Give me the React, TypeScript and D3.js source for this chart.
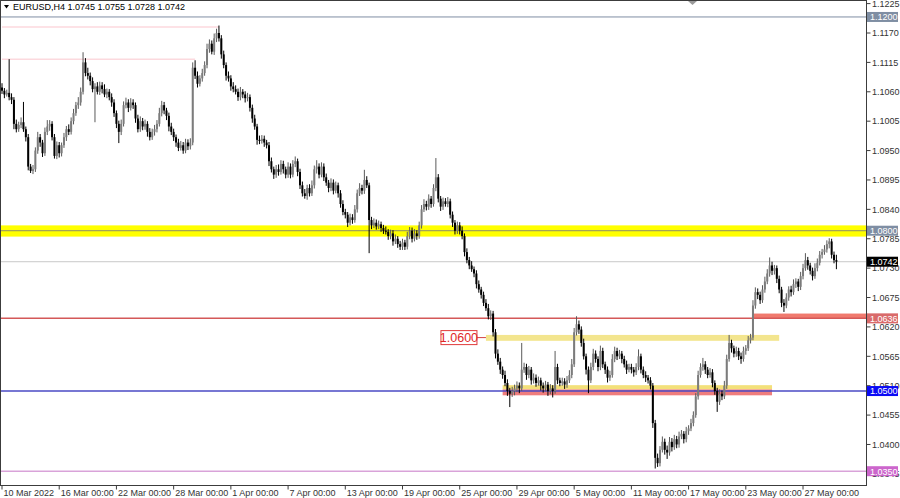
import React from "react";
import * as d3 from "d3";

// Each bar: [close, upper wick, lower wick] in pips above 1.0000; open = previous close
type B = [number, number, number];
const FIRST_OPEN = 1068;
const G0: B[] = [[1062,8,6],[1055,5,7],[1058,6,4],[1050,63,6],[1045,7,8],[1000,5,10],[990,8,6],[998,6,5],[1003,9,6],[990,38,5],[975,5,8],[920,6,7],[912,5,4],[915,8,6],[950,6,5],[975,10,6],[965,6,8],[945,5,7],[985,8,5],[995,12,6],[1000,7,8],[975,5,6],[940,6,5],[960,7,6]];
const G1: B[] = [[945,6,8],[960,5,6],[975,8,5],[990,6,7],[985,9,6],[1005,7,5],[1020,8,6],[1035,6,5],[1040,10,7],[1060,8,6],[1115,19,5],[1095,8,6],[1090,10,7],[1080,6,8],[1065,7,6],[1070,6,62],[1060,8,5],[1072,7,6],[1065,6,8],[1055,9,5],[1060,6,7],[1050,5,6],[1040,7,8],[1020,6,7]];
const G2: B[] = [[1000,5,8],[985,6,21],[1000,8,6],[1035,7,5],[1040,9,6],[1030,6,8],[1040,8,5],[1035,6,7],[1010,5,8],[990,7,6],[1005,9,5],[995,6,7],[1000,8,6],[985,5,9],[975,7,6],[985,6,5],[990,8,7],[1000,7,6],[1020,10,5],[1035,8,6],[1025,6,7],[1015,5,8],[995,6,9],[985,7,6]];
const G3: B[] = [[975,6,7],[965,5,8],[955,7,6],[960,8,5],[950,6,6],[965,7,5],[958,6,7],[965,8,6],[1105,10,5],[1090,14,6],[1075,8,7],[1085,6,5],[1095,8,6],[1110,7,5],[1140,10,6],[1150,8,7],[1135,6,5],[1160,9,6],[1170,8,7],[1160,14,6],[1130,6,8],[1110,7,6],[1090,5,9],[1085,8,6]];
const G4: B[] = [[1070,6,8],[1065,8,6],[1060,7,5],[1050,6,7],[1060,9,6],[1055,5,7],[1048,6,8],[1050,8,6],[1030,5,7],[1010,6,8],[995,7,6],[970,5,9],[968,8,6],[972,7,5],[965,6,8],[960,5,6],[930,6,9],[915,7,6],[905,5,8],[915,8,6],[910,9,7],[925,7,5],[915,6,8],[905,5,7]];
const G5: B[] = [[920,8,6],[905,6,7],[925,7,5],[930,9,6],[910,5,8],[885,6,7],[870,7,6],[865,8,5],[880,6,7],[870,7,6],[885,9,5],[915,7,6],[920,12,8],[905,6,7],[920,8,5],[900,6,7],[890,7,6],[880,5,8],[890,8,6],[875,6,7],[885,7,5],[870,5,8],[850,6,7],[835,7,6]];
const G6: B[] = [[830,6,7],[815,5,8],[825,7,5],[820,6,7],[840,8,5],[870,7,6],[880,9,5],[875,6,7],[895,19,6],[885,7,5],[820,5,62],[810,6,7],[815,8,5],[808,6,6],[812,7,5],[805,5,7],[800,6,6],[798,8,5],[790,5,7],[795,7,6],[780,6,8],[785,8,5],[775,5,7],[770,6,6]];
const G7: B[] = [[778,7,6],[770,5,6],[790,8,5],[800,7,6],[785,6,7],[795,8,5],[790,6,7],[810,7,5],[840,8,6],[850,9,5],[845,6,7],[860,8,6],[850,5,7],[880,7,5],[900,36,6],[860,6,7],[845,5,8],[855,7,6],[850,6,5],[855,8,6],[830,5,7],[815,6,8],[800,5,7],[810,7,6]];
const G8: B[] = [[800,6,7],[790,8,6],[760,5,8],[745,7,6],[735,6,7],[728,8,5],[720,5,7],[700,6,8],[690,7,6],[680,5,7],[665,6,6],[655,7,5],[640,8,6],[645,6,7],[610,5,8],[570,6,9],[555,8,6],[540,7,8],[530,6,7],[515,8,6],[500,7,9],[495,6,25],[500,8,6],[505,7,8]];
const G9: B[] = [[510,8,7],[505,6,9],[540,50,5],[545,8,6],[530,6,9],[540,7,6],[520,5,8],[525,8,6],[515,6,7],[520,7,5],[510,5,9],[505,6,8],[512,7,6],[500,5,9],[505,8,6],[500,6,12],[545,30,5],[520,6,7],[515,5,6],[518,7,5],[512,6,8],[520,8,6],[530,9,5],[550,10,6]];
const G10: B[] = [[610,8,5],[625,15,6],[615,7,8],[590,6,7],[565,8,6],[540,5,9],[520,6,24],[545,8,5],[570,9,6],[560,6,7],[545,5,8],[575,10,6],[550,6,7],[540,5,8],[525,6,9],[530,8,6],[560,9,5],[575,8,6],[565,6,7],[570,7,5],[560,5,8],[550,6,6],[540,7,8],[545,6,5]];
const G11: B[] = [[540,6,7],[535,5,8],[545,7,5],[565,13,6],[540,5,7],[530,6,6],[525,7,8],[520,5,6],[510,6,7],[440,5,9],[375,6,20],[365,8,7],[390,7,6],[405,10,5],[390,6,9],[385,8,12],[405,9,6],[395,7,8],[410,8,5],[400,6,7],[415,9,6],[420,7,5],[410,5,8],[425,8,6]];
const G12: B[] = [[430,6,7],[440,8,5],[455,7,6],[490,6,5],[530,8,6],[545,7,5],[550,12,7],[540,6,8],[530,5,6],[535,8,5],[515,6,8],[500,5,7],[480,6,19],[495,8,6],[490,6,7],[510,9,5],[560,8,6],[590,15,5],[580,6,8],[570,5,7],[575,8,6],[565,6,7],[560,7,9],[575,8,5]];
const G13: B[] = [[580,6,7],[595,8,5],[600,7,6],[660,10,5],[685,9,6],[680,7,8],[670,6,7],[690,8,5],[705,9,6],[720,8,5],[735,15,6],[725,7,8],[730,6,7],[710,5,8],[690,6,7],[665,5,8],[660,7,12],[675,8,5],[690,6,6],[685,7,8],[700,9,5],[705,6,7],[695,5,8],[715,8,6]];
const G14: B[] = [[730,8,6],[745,13,5],[735,6,8],[725,5,7],[715,6,8],[730,9,5],[740,8,6],[755,7,5],[760,6,7],[765,8,5],[775,7,6],[780,6,8],[755,5,7],[745,6,6],[742,10,14]];

const PRICE_TICKS = [1.1225, 1.117, 1.1115, 1.106, 1.1005, 1.095, 1.0895, 1.084, 1.0785, 1.073, 1.0675, 1.062, 1.0565, 1.051, 1.0455, 1.04, 1.0345];
const DATE_LABELS = ["10 Mar 2022", "16 Mar 00:00", "22 Mar 00:00", "28 Mar 00:00", "1 Apr 00:00", "7 Apr 00:00", "13 Apr 00:00", "19 Apr 00:00", "25 Apr 00:00", "29 Apr 00:00", "5 May 00:00", "11 May 00:00", "17 May 00:00", "23 May 00:00", "27 May 00:00"];
const BARS_PER_LABEL = 24;

const HLINES = [
  { p: 1.12, color: "#7f8ea3", w: 1 },
  { p: 1.0742, color: "#c8c8c8", w: 1 },
  { p: 1.0636, color: "#d45858", w: 1.5 },
  { p: 1.05, color: "#4a4ac4", w: 1.5 },
  { p: 1.035, color: "#d9a3d9", w: 1.5 },
];
const PRICE_BOXES = [
  { p: 1.12, text: "1.1200", color: "#7f8ea3" },
  { p: 1.08, text: "1.0800", color: "#7f8ea3" },
  { p: 1.0742, text: "1.0742", color: "#000000" },
  { p: 1.0636, text: "1.0636", color: "#d96a6a" },
  { p: 1.05, text: "1.0500", color: "#0a0af5" },
  { p: 1.035, text: "1.0350", color: "#cc66cc" },
];
// zones: [fromBar, toBar, priceLow, priceHigh]
const ZONES = [
  { from: 315, to: 363, lo: 1.0636, hi: 1.0645, color: "#f07a6e" },
  { from: 203, to: 326, lo: 1.0594, hi: 1.0605, color: "#f3e58e" },
  { from: 210, to: 323, lo: 1.0503, hi: 1.0511, color: "#f3e07a" },
  { from: 210, to: 323, lo: 1.0492, hi: 1.0503, color: "#ef7d7d" },
];
const PINK_LEVELS = [
  { p: 1.1181, to: 91 },
  { p: 1.1121, to: 81 },
];
const YELLOW_BAND = { lo: 1.0789, hi: 1.081, line: 1.08 };
const LABEL_1060 = { p: 1.06, text: "1.0600", bar: 203 };

const W = 900, H = 498;
const PLOT_R = 866.5, PLOT_B = 485.5;
const FONT = "'Liberation Sans', Arial, sans-serif";

export default function App() {
  const all = [G0, G1, G2, G3, G4, G5, G6, G7, G8, G9, G10, G11, G12, G13, G14].flat();
  const candles = all.map((b, i) => {
    const o = i === 0 ? FIRST_OPEN : all[i - 1][0];
    const c = b[0];
    const h = Math.max(o, c) + b[1];
    const l = Math.min(o, c) - b[2];
    return { o: 1 + o / 1e4, c: 1 + c / 1e4, h: 1 + h / 1e4, l: 1 + l / 1e4 };
  });
  const x = d3.scaleLinear().domain([0, 350]).range([2, 836.4]);
  const y = d3.scaleLinear().domain([1.035, 1.117]).range([471.2, 33]);
  const bw = 2;

  return (
    <svg width={W} height={H} style={{ position: "absolute", left: 0, top: 0, background: "#fff" }} fontFamily={FONT}>
      <rect x={0} y={0} width={W} height={H} fill="#fff" />
      <rect x={0} y={y(YELLOW_BAND.hi)} width={PLOT_R} height={y(YELLOW_BAND.lo) - y(YELLOW_BAND.hi)} fill="#ffff00" />
      <line x1={0} x2={PLOT_R} y1={y(YELLOW_BAND.line)} y2={y(YELLOW_BAND.line)} stroke="#8c8c6e" strokeWidth={1} />
      {PINK_LEVELS.map((l, i) => (
        <line key={i} x1={x(0)} x2={x(l.to)} y1={y(l.p)} y2={y(l.p)} stroke="#fcd9de" strokeWidth={1.5} />
      ))}
      {ZONES.map((z, i) => (
        <rect key={i} x={x(z.from)} y={y(z.hi)} width={Math.min(x(z.to), PLOT_R) - x(z.from)} height={y(z.lo) - y(z.hi)} fill={z.color} />
      ))}
      {HLINES.map((l, i) => (
        <line key={i} x1={0} x2={PLOT_R} y1={y(l.p)} y2={y(l.p)} stroke={l.color} strokeWidth={l.w} />
      ))}
      <g>
        <line x1={x(LABEL_1060.bar) - 9} x2={x(LABEL_1060.bar)} y1={y(LABEL_1060.p)} y2={y(LABEL_1060.p)} stroke="#d04040" strokeWidth={1} />
        <rect x={x(LABEL_1060.bar) - 45} y={y(LABEL_1060.p) - 7} width={36} height={14} fill="#fff" stroke="#e03a3a" strokeWidth={1} />
        <text x={x(LABEL_1060.bar) - 27} y={y(LABEL_1060.p) + 4.5} fontSize={12.5} fill="#e02828" textAnchor="middle">{LABEL_1060.text}</text>
      </g>
      {candles.map((d, i) => {
        const bull = d.c >= d.o;
        const col = bull ? "#7c7c7c" : "#000";
        const top = y(Math.max(d.o, d.c));
        const bot = y(Math.min(d.o, d.c));
        return (
          <g key={i}>
            <line x1={x(i)} x2={x(i)} y1={y(d.h)} y2={y(d.l)} stroke={bull ? "#5a5a5a" : "#000"} strokeWidth={1} />
            <rect x={x(i) - bw / 2} y={top} width={bw} height={Math.max(1, bot - top)} fill={col} />
          </g>
        );
      })}
      <rect x={0.5} y={0.5} width={PLOT_R - 0.5} height={PLOT_B - 0.5} fill="none" stroke="#3c3c3c" strokeWidth={1} />
      <polygon points="688,1 697,1 692.5,5" fill="#9a9a9a" />
      <polygon points="4,5 9,5 6.5,8.5" fill="#000" />
      <text x={13} y={10} fontSize={9} fill="#000">EURUSD,H4  1.0745 1.0755 1.0728 1.0742</text>
      {PRICE_TICKS.map((p, i) => (
        <g key={i}>
          <line x1={PLOT_R} x2={PLOT_R + 4} y1={y(p)} y2={y(p)} stroke="#3c3c3c" />
          <text x={872} y={y(p) + 3.2} fontSize={9} fill="#333">{p.toFixed(4)}</text>
        </g>
      ))}
      {PRICE_BOXES.map((b, i) => (
        <g key={i}>
          <rect x={PLOT_R + 0.5} y={y(b.p) - 5} width={31} height={10} fill={b.color} />
          <text x={870} y={y(b.p) + 3.3} fontSize={9} fill="#fff">{b.text}</text>
        </g>
      ))}
      {DATE_LABELS.map((t, i) => {
        const xi = x(i * BARS_PER_LABEL);
        return (
          <g key={i}>
            <line x1={xi} x2={xi} y1={PLOT_B} y2={PLOT_B + 4} stroke="#3c3c3c" />
            <text x={xi + 1.5} y={496} fontSize={9} fill="#333">{t}</text>
          </g>
        );
      })}
    </svg>
  );
}
